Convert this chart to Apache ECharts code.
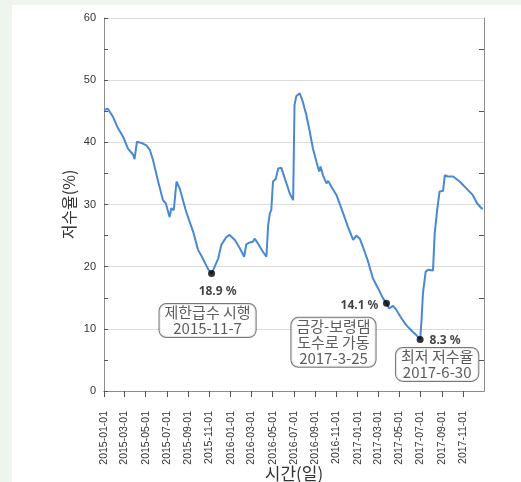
<!DOCTYPE html>
<html>
<head>
<meta charset="utf-8">
<script src="https://cdn.jsdelivr.net/npm/echarts@6/dist/echarts.min.js"></script>
<style>
  html, body { margin: 0; padding: 0; width: 521px; height: 482px; background: #edf5ee; overflow: hidden; }
  #panel { position: absolute; left: 12px; top: 5px; right: 0; bottom: 0; background: #ffffff; }
  #chart { position: absolute; left: 0; top: 0; width: 521px; height: 482px; }
</style>
</head>
<body>
<div id="panel"></div>
<div id="chart"></div>
<script>
// ---- data ----
const dates = [
  '2015-01-01','2015-01-12','2015-01-27','2015-02-10','2015-02-25','2015-03-11','2015-03-26','2015-03-30',
  '2015-04-06','2015-04-19','2015-05-03','2015-05-13','2015-05-22','2015-06-06','2015-06-20','2015-06-28',
  '2015-07-09','2015-07-14','2015-07-21','2015-07-29','2015-08-07','2015-08-26','2015-09-15','2015-09-29',
  '2015-10-13','2015-10-28','2015-11-07','2015-11-16','2015-11-26','2015-12-05','2015-12-20','2015-12-29',
  '2016-01-13','2016-01-27','2016-02-09','2016-02-15','2016-02-25','2016-03-05','2016-03-10','2016-03-20',
  '2016-04-03','2016-04-13','2016-04-18','2016-04-23','2016-04-27','2016-05-02','2016-05-10','2016-05-17',
  '2016-05-26','2016-06-05','2016-06-19','2016-06-29','2016-07-03','2016-07-08','2016-07-18','2016-07-27',
  '2016-08-06','2016-08-16','2016-08-25','2016-09-04','2016-09-12','2016-09-16','2016-09-23','2016-10-03',
  '2016-10-08','2016-10-17','2016-11-01','2016-11-20','2016-12-04','2016-12-19','2016-12-28','2017-01-07',
  '2017-01-16','2017-01-31','2017-02-14','2017-03-01','2017-03-15','2017-03-25','2017-04-01','2017-04-13',
  '2017-04-23','2017-05-07','2017-05-21','2017-06-09','2017-06-19','2017-06-30','2017-07-04','2017-07-08',
  '2017-07-16','2017-07-23','2017-08-06','2017-08-11','2017-08-18','2017-08-25','2017-09-04','2017-09-09',
  '2017-09-14','2017-09-18','2017-10-03','2017-10-22','2017-11-10','2017-11-29','2017-12-11','2017-12-24',
  '2017-12-28'
];
const rates = [
  45.2,45.4,44.1,42.3,40.9,39.0,38.0,37.3,
  40.1,39.9,39.5,38.8,37.2,33.7,30.7,30.2,
  28.0,29.4,29.1,33.7,32.6,28.8,25.6,22.7,
  21.3,19.6,18.9,20.0,21.3,23.5,24.8,25.1,
  24.3,23.0,21.6,23.6,23.9,24.0,24.5,23.7,
  22.4,21.6,26.7,28.6,29.1,33.7,34.1,35.8,
  35.9,34.2,31.8,30.7,46.0,47.4,47.9,46.5,
  44.4,41.7,39.0,36.9,35.3,36.1,34.7,33.4,
  33.8,32.9,31.5,28.6,26.4,24.3,25.0,24.5,
  23.2,20.8,18.1,16.5,14.9,14.1,13.3,13.7,
  13.0,11.7,10.6,9.5,9.0,8.3,11.4,15.7,
  19.2,19.5,19.4,25.4,29.1,32.1,32.2,34.7,
  35.0,34.5,34.5,33.7,32.6,31.5,30.2,29.4,
  29.3
];
const xTickDates = [
  '2015-01-01','2015-03-01','2015-05-01','2015-07-01','2015-09-01','2015-11-01',
  '2016-01-01','2016-03-01','2016-05-01','2016-07-01','2016-09-01','2016-11-01',
  '2017-01-01','2017-03-01','2017-05-01','2017-07-01','2017-09-01','2017-11-01'
];
const yMin = 0, yMax = 60, yStep = 10;
const yMinorTicks = [5, 15, 25, 35, 45, 55];
const annDates = ['2015-11-07', '2017-03-25', '2017-06-30'];
const annValues = [18.9, 14.1, 8.3];
const annNotes = ['제한급수 시행\n2015-11-7', '금강-보령댐\n도수로 가동\n2017-3-25', '최저 저수율\n2017-6-30'];
const xName = '시간(일)';
const yName = '저수율(%)';

// ---- styles ----
const pctOffsets = [[6, 18], [-27, 2], [25, 1]];
const boxOffsets = [[-4, 47], [-53, 39], [17, 25]];
const frameColor = '#8c8c8c';
const textColor = '#333333';

const chart = echarts.init(document.getElementById('chart'), null, { renderer: 'canvas' });
const tp = s => +echarts.time.parse(s);
const xTicks = xTickDates.map(tp);
const xMin = tp('2015-01-01');
const xMax = tp('2017-12-31');

const lineData = dates.map((d, i) => [d, rates[i]]);
const annData = annDates.map((d, i) => [d, annValues[i]]);

const option = {
  backgroundColor: 'transparent',
  animation: false,
  grid: { left: 104, right: 37, top: 18, bottom: 91, containLabel: false, outerBoundsMode: 'none' },
  xAxis: [
    {
      type: 'time', min: xMin, max: xMax, position: 'bottom',
      name: xName, nameLocation: 'middle', nameGap: 74, nameMoveOverlap: false,
      nameTextStyle: { fontSize: 17, color: textColor, fontFamily: 'Noto Sans CJK KR' },
      axisLine: { show: true, lineStyle: { color: frameColor, width: 1 } },
      axisTick: { show: true, inside: false, length: 6, lineStyle: { color: '#555' }, customValues: xTicks },
      axisLabel: {
        show: true, rotate: 90, margin: 20, fontSize: 10.5, color: textColor,
        fontFamily: 'Liberation Sans', customValues: xTicks,
        formatter: '{yyyy}-{MM}-{dd}'
      },
      splitLine: { show: false }
    },
    {
      type: 'time', min: xMin, max: xMax, position: 'top',
      axisLine: { show: true, lineStyle: { color: frameColor, width: 1 } },
      axisTick: { show: true, inside: true, length: 6, lineStyle: { color: '#555' }, customValues: xTicks },
      axisLabel: { show: false },
      splitLine: { show: false }
    }
  ],
  yAxis: [
    {
      type: 'value', min: yMin, max: yMax, interval: yStep, position: 'left',
      name: yName, nameLocation: 'middle', nameGap: 27, nameRotate: 90, nameMoveOverlap: false,
      nameTextStyle: { fontSize: 16, color: textColor, fontFamily: 'Noto Sans CJK KR' },
      axisLine: { show: true, lineStyle: { color: frameColor, width: 1 } },
      axisTick: { show: true, inside: true, length: 4, lineStyle: { color: '#555' } },
      minorTick: { show: true, splitNumber: 2, length: 4, lineStyle: { color: '#555' } },
      axisLabel: { fontSize: 11, color: textColor, margin: 8, fontFamily: 'Liberation Sans' },
      splitLine: { show: true, lineStyle: { color: '#dcdcdc', width: 1 } }
    },
    {
      type: 'value', min: yMin, max: yMax, position: 'right',
      axisLine: { show: true, lineStyle: { color: frameColor, width: 1 } },
      axisTick: { show: true, inside: true, length: 5, lineStyle: { color: '#555' }, customValues: yMinorTicks },
      axisLabel: { show: false },
      splitLine: { show: false }
    }
  ],
  series: [
    {
      type: 'line', data: lineData, xAxisIndex: 0, yAxisIndex: 0,
      showSymbol: false, symbol: 'none',
      lineStyle: { color: '#4a88d0', width: 2 },
      z: 3
    },
    {
      type: 'scatter', data: annData.map((p, i) => ({
        value: p,
        label: { offset: pctOffsets[i] }
      })),
      symbol: 'circle', symbolSize: 7,
      itemStyle: { color: '#000' },
      label: {
        show: true, position: 'inside', color: '#111',
        fontWeight: 'bold', fontSize: 12, fontFamily: 'Noto Sans',
        formatter: p => p.value[1] + ' %'
      },
      z: 5
    },
    {
      type: 'scatter', data: annData.map((p, i) => ({
        value: p,
        label: { offset: boxOffsets[i], formatter: annNotes[i] }
      })),
      symbol: 'circle', symbolSize: 1,
      itemStyle: { color: 'transparent' },
      label: {
        show: true, position: 'inside', align: 'center', verticalAlign: 'middle',
        color: textColor, fontSize: 15, lineHeight: 16, fontFamily: 'Noto Sans CJK KR',
        backgroundColor: '#ffffff', borderColor: '#555', borderWidth: 1, borderRadius: 7,
        padding: [1, 5, 0, 5]
      },
      z: 6
    }
  ]
};
chart.setOption(option);
</script>
</body>
</html>
